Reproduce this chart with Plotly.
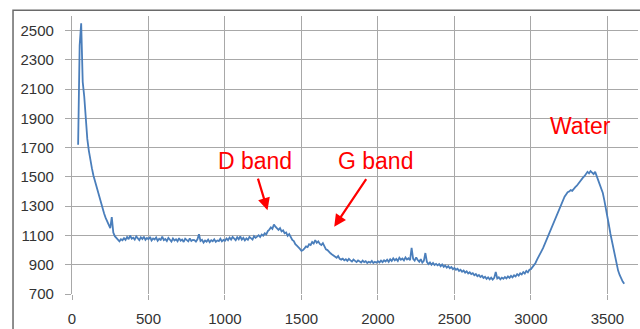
import plotly.graph_objects as go

# Raman shift grid (cm^-1), sampled every 10 from 40 to 3610
wavenumber = list(range(40, 3620, 10))

intensity = [
    1720, 2400, 2550, 2150, 2050, 1900,
    1760, 1680, 1610, 1560, 1510, 1470, 1430, 1390, 1360, 1320,
    1270, 1250, 1220, 1195, 1170, 1150, 1225, 1120, 1095, 1085,
    1070, 1060, 1075, 1068, 1082, 1070, 1090, 1074, 1100, 1078,
    1085, 1072, 1094, 1080, 1068, 1088, 1076, 1092, 1070, 1083,
    1075, 1090, 1066, 1080, 1072, 1086, 1064, 1078, 1070, 1092,
    1068, 1076, 1062, 1084, 1070, 1058, 1080, 1066, 1074, 1060,
    1082, 1064, 1072, 1056, 1078, 1066, 1060, 1080, 1062, 1070,
    1068, 1058, 1074, 1108, 1062, 1070, 1052, 1066, 1058, 1072,
    1054, 1068, 1060, 1074, 1056, 1066, 1062, 1078, 1060, 1070,
    1064, 1080, 1068, 1086, 1072, 1090, 1076, 1068, 1088, 1074,
    1094, 1072, 1084, 1066, 1080, 1070, 1090, 1078, 1072, 1096,
    1084, 1092, 1102, 1090, 1106, 1098, 1115, 1108, 1130, 1140,
    1155, 1145, 1175, 1160, 1150, 1138, 1150, 1128, 1135, 1115,
    1120, 1098, 1110, 1086, 1070, 1062, 1040, 1030, 1015, 1008,
    995, 1000, 1012, 1025, 1020, 1040, 1035, 1055, 1045, 1068,
    1050, 1060, 1042, 1035, 1048, 1020, 1005, 1000, 985, 978,
    970, 962, 955, 948, 960, 940, 935, 942, 930, 938,
    926, 940, 930, 922, 935, 926, 918, 930, 922, 915,
    928, 918, 924, 912, 920, 915, 926, 912, 920, 914,
    924, 916, 928, 918, 930, 922, 934, 920, 938, 926,
    944, 930, 940, 926, 948, 934, 942, 930, 950, 936,
    944, 932, 1015, 940, 928, 950, 932, 920, 938, 915,
    926, 980, 920, 904, 915, 900, 912, 898, 906, 896,
    905, 890, 902, 886, 895, 880, 890, 876, 884, 870,
    878, 865, 872, 858, 866, 852, 860, 846, 855, 840,
    848, 836, 842, 828, 836, 822, 830, 816, 824, 810,
    818, 804, 814, 800, 812, 798, 810, 850, 806, 814,
    800, 812, 804, 816, 806, 820, 810, 824, 814, 828,
    820, 836, 826, 842, 834, 850, 840, 858, 848, 866,
    870, 884, 900, 912, 935, 952, 972, 995, 1015, 1040,
    1065, 1090, 1120, 1150, 1175, 1200, 1225, 1250, 1275, 1300,
    1320, 1345, 1365, 1380, 1395, 1400, 1410, 1405, 1420, 1430,
    1440, 1455, 1470, 1480, 1495, 1505, 1520, 1535, 1525, 1540,
    1530, 1520, 1535, 1505, 1490, 1460, 1430, 1390, 1340, 1290,
    1230, 1170, 1110, 1060, 1000, 950, 905, 860, 830, 800,
    785, 770,
]

x_ticks = [0, 500, 1000, 1500, 2000, 2500, 3000, 3500]
y_ticks = [700, 900, 1100, 1300, 1500, 1700, 1900, 2100, 2300, 2500]

# labels: (text, x, y)
labels = [("D band", 1199, 1606), ("G band", 1982, 1606), ("Water", 3325, 1847)]
# arrows: (tip x, tip y, tail offset px x, tail offset px y)
arrows = [(1278, 1273, -10, -33), (1714, 1160, 33, -49)]

fig = go.Figure()
fig.add_trace(go.Scatter(
    x=wavenumber, y=intensity, mode="lines",
    line=dict(color="#4a7ebb", width=1.8),
    hoverinfo="skip", showlegend=False,
))

grid = "#a8a8a8"
tickfont = dict(family="Liberation Sans, Arial, sans-serif", size=15, color="#333333")
fig.update_xaxes(
    range=[0, 3700], tickvals=x_ticks, ticktext=[str(v) for v in x_ticks],
    showgrid=True, gridcolor=grid, gridwidth=1.3,
    zeroline=False, showline=False,
    ticks="outside", ticklen=5, tickcolor=grid, tickwidth=1.3,
    tickfont=tickfont, ticklabelstandoff=6,
)
fig.update_yaxes(
    range=[700, 2600], tickvals=y_ticks, ticktext=[str(v) for v in y_ticks],
    showgrid=True, gridcolor=grid, gridwidth=1.3,
    zeroline=False, showline=True, linecolor=grid, linewidth=1.3,
    ticks="outside", ticklen=6, tickcolor=grid, tickwidth=1.3,
    tickfont=tickfont, ticklabelstandoff=8,
)

for text, xv, yv in labels:
    fig.add_annotation(x=xv, y=yv, text=text, showarrow=False,
                       font=dict(family="Liberation Sans, Arial, sans-serif", size=23, color="#ff0000"),
                       xanchor="center", yanchor="middle")
for xv, yv, ax, ay in arrows:
    fig.add_annotation(x=xv, y=yv, text="", showarrow=True, ax=ax, ay=ay,
                       arrowhead=2, arrowsize=1.1, arrowwidth=2.2, arrowcolor="#ff0000")

fig.add_shape(type="rect", xref="paper", yref="paper",
              x0=-0.1042, x1=1.2, y0=-0.4, y1=1.0211,
              line=dict(color="#6a6a6a", width=1.5), fillcolor="rgba(0,0,0,0)", layer="above")

fig.update_layout(
    width=640, height=329,
    margin=dict(l=72, r=2, t=16, b=28),
    paper_bgcolor="white", plot_bgcolor="white",
)

fig.write_html("out.html", config={"displayModeBar": False},
               post_script="document.body.style.margin='0';document.body.style.padding='0';document.body.style.overflow='hidden';")
